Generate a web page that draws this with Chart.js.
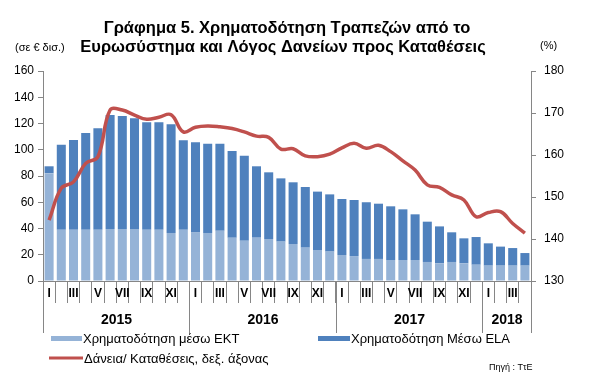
<!DOCTYPE html>
<html lang="el">
  <head>
    <meta charset="UTF-8" />
    <title>Γράφημα 5</title>
    <script src="https://cdn.jsdelivr.net/npm/chart.js"></script>
    <style>
      body {
        margin: 0;
        background: #ffffff;
      }
      #wrap {
        position: relative;
        width: 591px;
        height: 392px;
      }
    </style>
  </head>
  <body>
    <div id="wrap"><canvas id="myChart" width="591" height="392"></canvas></div>

    <script>
      // μήνες (ετικέτες άξονα)
      const monthTicks = ["I", "", "III", "", "V", "", "VII", "", "IX", "", "XI", ""];
      const years = ["2015", "2016", "2017", "2018"];
      const monthsPerYear = [12, 12, 12, 4];

      // δισ. ευρώ
      const ecbFunding = [
        82, 39, 39, 39, 39, 39.6, 39.6, 39.6, 39, 39, 36.6, 39,
        37.3, 36.6, 38.3, 33, 30.7, 33, 32, 30, 28.2, 25.4, 23.6, 22.4,
        19.8, 19, 16.8, 16.8, 16, 16, 16, 14.5, 13.5, 14.5, 13.5, 12.4,
        11.7, 11.7, 11.7, 11.7,
      ];
      const elaFunding = [
        5.4, 64.9, 68.4, 73.8, 77.3, 86.9, 86.1, 84.4, 81.9, 82, 82.8, 68.2,
        68.4, 68, 66.3, 66, 64.8, 54.4, 50.8, 48.2, 47, 46.2, 44.5, 43.6,
        42.7, 42.7, 43.2, 42.1, 40.9, 38.6, 34.8, 30.7, 28.1, 22.6, 19, 21.1,
        17, 14.5, 13.4, 9.6,
      ];
      // %
      const loanToDeposit = [
        144.5, 152.1, 153.6, 158, 159.6, 170.7, 170.7, 169.5, 168.5, 169, 169.6, 165.5,
        166.6, 166.9, 166.7, 166.3, 165.5, 164.5, 164.2, 161.4, 161.5, 159.8, 159.6, 160.2,
        161.7, 162.8, 161.6, 162.3, 160.8, 158.6, 156.4, 152.9, 152.3, 150.5, 149.3, 145.3,
        146.3, 146.5, 143.7, 141.4,
      ];

      const labels = [];
      monthsPerYear.forEach((n) => {
        for (let m = 0; m < n; m++) labels.push(monthTicks[m]);
      });

      const LIGHT = "#95B3D7";
      const DARK = "#4F81BD";
      const RED = "#C0504D";
      const AXIS = "#868686";
      const FONT = "'Liberation Sans', Arial, sans-serif";

      // τίτλος, έτη και υπόμνημα
      const extras = {
        id: "extras",
        afterDraw(chart) {
          const c = chart.ctx;
          const xs = chart.scales.x;
          const area = chart.chartArea;
          c.save();

          c.fillStyle = "#000";
          c.textAlign = "center";
          c.textBaseline = "middle";
          c.font = "bold 16.5px " + FONT;
          c.fillText("Γράφημα 5. Χρηματοδότηση Τραπεζών από το", 287, 28);
          c.fillText("Ευρωσύστημα και Λόγος Δανείων προς Καταθέσεις", 283, 47);

          c.font = "11px " + FONT;
          c.textAlign = "left";
          c.fillText("(σε € δισ.)", 15, 48);
          c.fillText("(%)", 540, 46);

          // διαχωριστικά και ετικέτες ετών
          c.strokeStyle = AXIS;
          c.lineWidth = 1;
          c.font = "bold 14px " + FONT;
          c.textAlign = "center";
          let start = 0;
          const edge = (i) => Math.round(xs.getPixelForValue(i - 0.5)) + 0.5;
          years.forEach((yr, k) => {
            const end = start + monthsPerYear[k];
            const x0 = edge(start);
            const x1 = edge(end);
            c.beginPath();
            c.moveTo(x0, area.bottom);
            c.lineTo(x0, 333);
            c.stroke();
            if (k === years.length - 1) {
              c.beginPath();
              c.moveTo(x1, area.bottom);
              c.lineTo(x1, 333);
              c.stroke();
            }
            c.fillText(yr, (x0 + x1) / 2, 320);
            start = end;
          });

          // υπόμνημα
          c.font = "13px " + FONT;
          c.textAlign = "left";
          c.fillStyle = LIGHT;
          c.fillRect(51, 336, 31, 5);
          c.fillStyle = DARK;
          c.fillRect(318, 336, 32, 5);
          c.strokeStyle = RED;
          c.lineWidth = 3;
          c.beginPath();
          c.moveTo(49, 358);
          c.lineTo(83, 358);
          c.stroke();
          c.fillStyle = "#000";
          c.fillText("Χρηματοδότηση μέσω ΕΚΤ", 83, 339);
          c.fillText("Χρηματοδότηση Μέσω ELA", 351, 339);
          c.fillText("Δάνεια/ Καταθέσεις, δεξ. άξονας", 84, 359);

          c.font = "9px " + FONT;
          c.fillText("Πηγή : ΤτΕ", 489, 368);
          c.restore();
        },
      };

      const ctx = document.getElementById("myChart").getContext("2d");
      const myChart = new Chart(ctx, {
        type: "bar",
        data: {
          labels: labels,
          datasets: [
            {
              type: "line",
              label: "Δάνεια/ Καταθέσεις, δεξ. άξονας",
              data: loanToDeposit,
              yAxisID: "y1",
              borderColor: RED,
              borderWidth: 3.5,
              pointRadius: 0,
              tension: 0.4,
              order: 0,
            },
            {
              label: "Χρηματοδότηση μέσω ΕΚΤ",
              data: ecbFunding,
              backgroundColor: LIGHT,
              yAxisID: "y",
              order: 1,
            },
            {
              label: "Χρηματοδότηση Μέσω ELA",
              data: elaFunding,
              backgroundColor: DARK,
              yAxisID: "y",
              order: 1,
            },
          ],
        },
        options: {
          responsive: false,
          animation: false,
          maintainAspectRatio: false,
          layout: { padding: { top: 71, left: 0, right: 0, bottom: 0 } },
          datasets: {
            bar: { barPercentage: 0.74, categoryPercentage: 1 },
          },
          plugins: {
            legend: { display: false },
            tooltip: { enabled: false },
          },
          scales: {
            x: {
              stacked: true,
              offset: true,
              border: { color: AXIS },
              grid: {
                offset: true,
                drawOnChartArea: false,
                tickLength: 22,
                color: AXIS,
              },
              ticks: {
                autoSkip: false,
                maxRotation: 0,
                padding: -17,
                color: "#000",
                font: { family: FONT, size: 12, weight: "bold" },
              },
              afterFit(scale) {
                scale.height = 111;
              },
            },
            y: {
              stacked: true,
              position: "left",
              min: 0,
              max: 160,
              border: { color: AXIS },
              grid: { drawOnChartArea: false, tickLength: 5, color: AXIS },
              ticks: {
                stepSize: 20,
                padding: 4,
                color: "#000",
                font: { family: FONT, size: 12 },
              },
              afterFit(scale) {
                scale.width = 43;
              },
            },
            y1: {
              position: "right",
              min: 130,
              max: 180,
              border: { color: AXIS },
              grid: { drawOnChartArea: false, tickLength: 5, color: AXIS },
              ticks: {
                stepSize: 10,
                padding: 8,
                color: "#000",
                font: { family: FONT, size: 12 },
              },
              afterFit(scale) {
                scale.width = 60;
              },
            },
          },
        },
        plugins: [extras],
      });
    </script>
  </body>
</html>
